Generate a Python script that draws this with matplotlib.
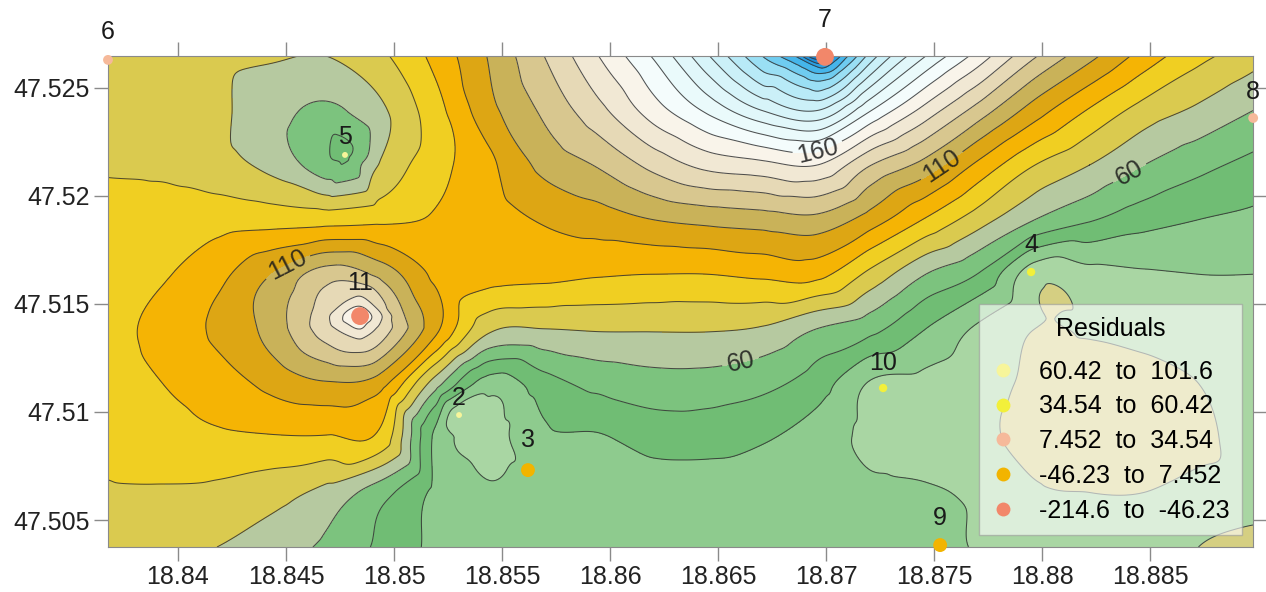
import numpy as np
import matplotlib
matplotlib.use("Agg")
import matplotlib.pyplot as plt
import matplotlib.tri as mtri
from matplotlib.lines import Line2D
from matplotlib.ticker import FuncFormatter

plt.rcParams['font.family'] = ['Liberation Sans', 'DejaVu Sans']

# surface grid, rows go bottom -> top
lon = np.linspace(18.83676, 18.88976, 22)
lat = np.linspace(47.50375, 47.52648, 10)
z_rows = [
    [76, 74, 70, 65, 58, 48, 38, 35, 34, 34, 34, 34, 34, 34, 33, 33, 29, 25, 23, 22, 20, 19],
    [79, 79, 78, 74, 67, 54, 38, 31, 34, 34, 35, 35, 35, 34, 32, 31, 28, 21, 20, 20, 21, 21],
    [82, 86, 88, 89, 89, 87, 38, 27, 38, 39, 44, 44, 41, 36, 27, 25, 22, 17, 16, 17, 19, 22],
    [85, 90, 95, 103, 109, 104, 65, 35, 46, 53, 56, 56, 53, 45, 29, 27, 24, 18, 16, 17, 20, 25],
    [87, 93, 102, 114, 136, 137, 103, 72, 70, 71, 71, 71, 69, 60, 53, 40, 28, 20, 21, 23, 25, 27],
    [86, 89, 97, 110, 125, 117, 98, 94, 93, 91, 90, 90, 92, 93, 77, 60, 49, 24, 27, 29, 30, 30],
    [84, 85, 86, 86, 86, 88, 91, 96, 101, 105, 110, 113, 115, 117, 105, 89, 74, 60, 51, 44, 40, 38],
    [79, 78, 74, 67, 54, 71, 86, 98, 113, 121, 133, 143, 147, 150, 130, 116, 97, 80, 70, 60, 53, 47],
    [76, 76, 72, 64, 58, 68, 86, 107, 122, 137, 155, 172, 190, 200, 170, 146, 125, 105, 89, 76, 68, 60],
    [75, 74, 72, 71, 70, 78, 93, 111, 130, 150, 171, 199, 230, 278, 215, 180, 155, 131, 113, 96, 83, 74],
]

# extra spot values (peaks and pits between grid nodes)
spot_x = [18.84843, 18.84843, 18.84843, 18.84657, 18.85028, 18.84773,
          18.85301, 18.86995, 18.86995, 18.86856, 18.87102]
spot_y = [47.51444, 47.51565, 47.51310, 47.51444, 47.51444, 47.52190,
          47.50986, 47.52569, 47.52449, 47.52648, 47.52648]
spot_z = [156, 135, 135, 134, 123, 48,
          24, 240, 210, 250, 240]

# sample wells
well_id = ['2', '3', '4', '5', '6', '7', '8', '9', '10', '11']
well_x = [18.85301, 18.85620, 18.87949, 18.84773, 18.83676, 18.86995, 18.88977, 18.87528, 18.87264, 18.84843]
well_y = [47.50986, 47.50731, 47.51648, 47.52190, 47.52630, 47.52644, 47.52361, 47.50384, 47.51111, 47.51444]
well_class = [0, 3, 1, 0, 2, 4, 2, 3, 1, 4]
label_dy = [17, 30, 27, 18, 28, 37, 26, 27, 25, 33]

res_labels = ['60.42  to  101.6', '34.54  to  60.42', '7.452  to  34.54',
              '-46.23  to  7.452', '-214.6  to  -46.23']
res_colors = ['#F7F59A', '#F2F03A', '#F6B99A', '#F2B400', '#F2876A']
res_sizes = [18, 36, 50, 100, 165]

levels = np.arange(10, 300, 10)
label_levels = [60, 110, 160]
band_colors = ['#D5CF82', '#A9D6A3', '#8ECB8E', '#70BD74', '#7CC37E', '#B6C9A0',
               '#DACA4F', '#F0CF22', '#F5B404', '#DDA614', '#C9B259', '#D8C78F',
               '#E6D9B6', '#F1E8D4', '#F9F4EA', '#F4FCFC', '#EAFAFB', '#E1F7FA',
               '#D7F4F9', '#CBF0F8', '#B8EAF7', '#9ADFF4', '#6FCCF0', '#45B5EA',
               '#2A9FE2', '#1E8ED9', '#1A82D0', '#1778C8']

fig = plt.figure(figsize=(12.66, 5.92), dpi=100)
ax = fig.add_axes([0.0853, 0.076, 0.9044, 0.8294])

gx, gy = np.meshgrid(lon, lat)
px = np.concatenate([gx.ravel(), spot_x])
py = np.concatenate([gy.ravel(), spot_y])
pz = np.concatenate([np.array(z_rows, float).ravel(), spot_z])
tri = mtri.Triangulation(px, py)
interp = mtri.CubicTriInterpolator(tri, pz, kind='geom')
tri_f, z_f = mtri.UniformTriRefiner(tri).refine_field(pz, triinterpolator=interp, subdiv=5)

ax.tricontourf(tri_f, z_f, levels=levels, colors=band_colors, extend='both')
plain = [v for v in levels if v not in label_levels]
ax.tricontour(tri_f, z_f, levels=plain, colors='#333333', linewidths=0.75, alpha=0.85)
cs = ax.tricontour(tri_f, z_f, levels=label_levels, colors='#333333', linewidths=0.75, alpha=0.85)
ax.clabel(cs, inline=True, fontsize=18, fmt='%d', colors='#1a1a1a',
          manual=[(18.86602, 47.51241), (18.88394, 47.52120), (18.84519, 47.51657),
                  (18.87574, 47.52083), (18.86972, 47.52167)])

for i, w in enumerate(well_id):
    c = well_class[i]
    ax.scatter(well_x[i], well_y[i], s=res_sizes[c], color=res_colors[c],
               edgecolors='none', zorder=5, clip_on=False)
    ax.annotate(w, (well_x[i], well_y[i]), xytext=(0, label_dy[i]), textcoords='offset pixels',
                ha='center', va='center', fontsize=18, color='#1a1a1a',
                annotation_clip=False, zorder=6)

ax.set_xlim(lon[0], lon[-1])
ax.set_ylim(lat[0], lat[-1])
ax.set_xticks([18.84, 18.845, 18.85, 18.855, 18.86, 18.865, 18.87, 18.875, 18.88, 18.885])
ax.set_yticks([47.505, 47.51, 47.515, 47.52, 47.525])
fmt = FuncFormatter(lambda v, p: ('%.3f' % v).rstrip('0').rstrip('.'))
ax.xaxis.set_major_formatter(fmt)
ax.yaxis.set_major_formatter(fmt)
ax.tick_params(direction='out', length=10, width=1, color='#8a8a8a', top=True, right=True,
               labelsize=18, labelcolor='#222222', pad=3)
for s in ax.spines.values():
    s.set_color('#8a8a8a')
    s.set_linewidth(0.8)

handles = [Line2D([], [], marker='o', linestyle='', markersize=10,
                  markerfacecolor=col, markeredgecolor='none') for col in res_colors]
leg = ax.legend(handles, res_labels, title='Residuals', loc='lower right',
                bbox_to_anchor=(0.9904, 0.0244), fontsize=18, title_fontsize=18,
                frameon=True, fancybox=False, framealpha=0.6, edgecolor='#999999',
                handlelength=0.92, handletextpad=0.98, labelspacing=0.43, borderpad=0.5,
                borderaxespad=0)
leg._legend_box.sep = 13.5
leg.get_frame().set_linewidth(1.0)
leg.set_zorder(7)

fig.savefig('out.png', dpi=100)
